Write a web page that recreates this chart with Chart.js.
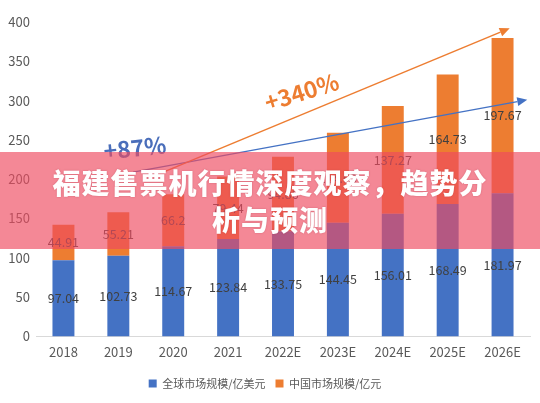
<!DOCTYPE html>
<html><head><meta charset="utf-8">
<script src="https://cdn.jsdelivr.net/npm/chart.js@4.4.1/dist/chart.umd.min.js"></script>
<style>
html,body{margin:0;padding:0;background:#fff;}
#wrap{position:relative;width:540px;height:403px;overflow:hidden;}
canvas{display:block;}
#banner{position:absolute;left:0;top:152px;width:540px;height:97px;background:rgba(238,74,96,0.66);}
#title{position:absolute;left:0;top:164px;width:540px;text-align:center;color:#fff;font-family:"Noto Sans CJK SC",sans-serif;font-weight:900;font-size:28px;line-height:37px;letter-spacing:1px;text-shadow:0 0 2px rgba(150,30,50,0.35);}
</style></head>
<body><div id="wrap"><canvas id="c" width="540" height="403"></canvas><div id="banner"></div><div id="title">福建售票机行情深度观察，趋势分<br>析与预测</div></div>
<script>
const categories = ["2018","2019","2020","2021","2022E","2023E","2024E","2025E","2026E"];
const globalMarket = [97.04,102.73,114.67,123.84,133.75,144.45,156.01,168.49,181.97];
const chinaMarket = [44.91,55.21,66.2,79.44,94.86,114.63,137.27,164.73,197.67];
const seriesNames = ["全球市场规模/亿美元","中国市场规模/亿元"];
const yTicks = [0,50,100,150,200,250,300,350,400];
const growthLabels = ["+87%","+340%"];
// arrows: [startIndex, startValue, endIndex, endValue]
const blueArrow = [1.27,209,8.45,301];
const orangeArrow = [1.82,209,8.13,392];

const FONT = '"Noto Sans CJK SC","Open Sans",sans-serif';

const labelPlugin = {
  id:'labels',
  afterDatasetsDraw(chart){
    const ctx = chart.ctx;
    ctx.save();
    ctx.font = '12.5px '+FONT;
    ctx.fillStyle = '#404040';
    ctx.textAlign='center';ctx.textBaseline='middle';
    chart.data.datasets.forEach((ds,di)=>{
      const meta = chart.getDatasetMeta(di);
      meta.data.forEach((bar,i)=>{
        const y = (bar.y + bar.base)/2;
        ctx.fillText(String(ds.data[i]), bar.x, y);
      });
    });
    ctx.restore();
  }
};

function arrow(ctx,x1,y1,x2,y2,color){
  ctx.save();
  ctx.strokeStyle=color;ctx.fillStyle=color;ctx.lineWidth=1.5;
  const a=Math.atan2(y2-y1,x2-x1);
  const L=10,W=4.5;
  const bx=x2-L*Math.cos(a), by=y2-L*Math.sin(a);
  ctx.beginPath();ctx.moveTo(x1,y1);ctx.lineTo(bx,by);ctx.stroke();
  ctx.beginPath();ctx.moveTo(x2,y2);
  ctx.lineTo(bx+W*Math.sin(a),by-W*Math.cos(a));
  ctx.lineTo(bx-W*Math.sin(a),by+W*Math.cos(a));
  ctx.closePath();ctx.fill();
  ctx.restore();
}

const annoPlugin = {
  id:'anno',
  afterDraw(chart){
    const ctx=chart.ctx, xs=chart.scales.x, ys=chart.scales.y;
    const P=(a)=>[xs.getPixelForValue(a[0]),ys.getPixelForValue(a[1]),xs.getPixelForValue(a[2]),ys.getPixelForValue(a[3])];
    const b=P(blueArrow), o=P(orangeArrow);
    arrow(ctx,b[0],b[1],b[2],b[3],'#4472C4');
    arrow(ctx,o[0],o[1],o[2],o[3],'#ED7D31');
    ctx.save();
    ctx.font='bold 23px '+FONT;
    ctx.textAlign='center';ctx.textBaseline='middle';
    ctx.fillStyle='#4A6EBA';
    ctx.translate(xs.getPixelForValue(1.3), ys.getPixelForValue(240));
    ctx.rotate(-6*Math.PI/180);
    ctx.fillText(growthLabels[0],0,0);
    ctx.restore();
    ctx.save();
    ctx.font='bold 23px '+FONT;
    ctx.textAlign='center';ctx.textBaseline='middle';
    ctx.fillStyle='#ED7D31';
    ctx.translate(xs.getPixelForValue(4.34), ys.getPixelForValue(311));
    ctx.rotate(-17*Math.PI/180);
    ctx.fillText(growthLabels[1],0,0);
    ctx.restore();
  }
};

new Chart(document.getElementById('c'),{
  type:'bar',
  data:{labels:categories,datasets:[
    {label:seriesNames[0],data:globalMarket,backgroundColor:'#4472C4',barPercentage:0.8,categoryPercentage:0.5},
    {label:seriesNames[1],data:chinaMarket,backgroundColor:'#ED7D31',barPercentage:0.8,categoryPercentage:0.5}
  ]},
  options:{
    responsive:false,animation:false,
    layout:{padding:{top:22,right:10,left:0,bottom:4}},
    scales:{
      x:{stacked:true,grid:{display:false,drawTicks:false},border:{color:'#D9D9D9',width:1},
         ticks:{color:'#595959',font:{size:13,family:FONT},padding:8}},
      y:{stacked:true,min:0,max:400,grid:{display:false,drawTicks:false},border:{display:false},
         afterBuildTicks(s){s.ticks=yTicks.map(v=>({value:v}));},
         afterFit(s){s.width=36;},
         ticks:{color:'#595959',font:{size:13,family:FONT},padding:6}}
    },
    plugins:{
      legend:{position:'bottom',labels:{boxWidth:8,boxHeight:8,color:'#595959',font:{size:11,family:FONT},padding:10}},
      tooltip:{enabled:false}
    }
  },
  plugins:[labelPlugin,annoPlugin]
});
</script></body></html>
